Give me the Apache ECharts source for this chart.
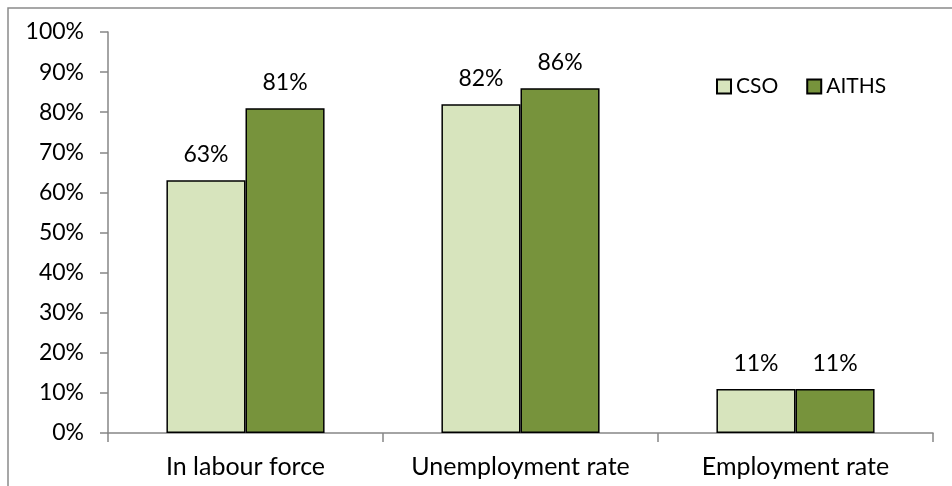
<!DOCTYPE html>
<html>
<head>
<meta charset="utf-8">
<script src="https://cdn.jsdelivr.net/npm/echarts@6/dist/echarts.min.js"></script>
<style>
  html, body { margin: 0; padding: 0; background: #fff; }
  #chart { width: 952px; height: 486px; }
</style>
</head>
<body>
<div id="chart"></div>
<script>
// Labour market indicators: CSO vs AITHS
const categories = ['In labour force', 'Unemployment rate', 'Employment rate'];
const csoValues = [63, 82, 11];
const aithsValues = [81, 86, 11];
const yTicks = [0, 10, 20, 30, 40, 50, 60, 70, 80, 90, 100];

const FONT = 'Lato';
const chart = echarts.init(document.getElementById('chart'));

const labelStyle = {
  show: true,
  position: 'top',
  distance: 14,
  color: '#000',
  fontFamily: FONT,
  fontSize: 23,
  formatter: p => Math.round(p.value) + '%'
};

chart.setOption({
  animation: false,
  textStyle: { fontFamily: FONT },
  graphic: [{
    type: 'rect',
    shape: { x: 8, y: 8, width: 960, height: 500 },
    style: { fill: 'none', stroke: '#8a8a8a', lineWidth: 1.5 },
    silent: true
  }],
  grid: { left: 108, right: 19, top: 32, bottom: 53, containLabel: false },
  legend: {
    left: 711,
    top: 71,
    itemWidth: 14,
    itemHeight: 14,
    itemGap: 28,
    icon: 'rect',
    textStyle: { fontFamily: FONT, fontSize: 21, color: '#000' },
    data: ['CSO', 'AITHS']
  },
  xAxis: {
    type: 'category',
    data: categories,
    axisLine: { lineStyle: { color: '#868686', width: 1.5 } },
    axisTick: { show: true, length: 9, lineStyle: { color: '#868686', width: 1.5 } },
    axisLabel: {
      color: '#000', fontFamily: FONT, fontSize: 25, margin: 21,
      interval: 0, hideOverlap: false
    }
  },
  yAxis: {
    type: 'value',
    min: yTicks[0],
    max: yTicks[yTicks.length - 1],
    interval: yTicks[1] - yTicks[0],
    splitLine: { show: false },
    axisLine: { show: true, lineStyle: { color: '#868686', width: 1.5 } },
    axisTick: { show: true, length: 8, lineStyle: { color: '#868686', width: 1.5 } },
    axisLabel: { color: '#000', fontFamily: FONT, fontSize: 23, margin: 24, formatter: v => v + '%' }
  },
  series: [
    {
      name: 'CSO',
      type: 'bar',
      data: csoValues,
      barGap: '0%',
      barCategoryGap: '42.5%',
      itemStyle: { color: '#D7E4BD', borderColor: '#000', borderWidth: 1.5 },
      label: labelStyle
    },
    {
      name: 'AITHS',
      type: 'bar',
      data: aithsValues,
      itemStyle: { color: '#77933C', borderColor: '#000', borderWidth: 1.5 },
      label: labelStyle
    }
  ]
});
</script>
</body>
</html>
